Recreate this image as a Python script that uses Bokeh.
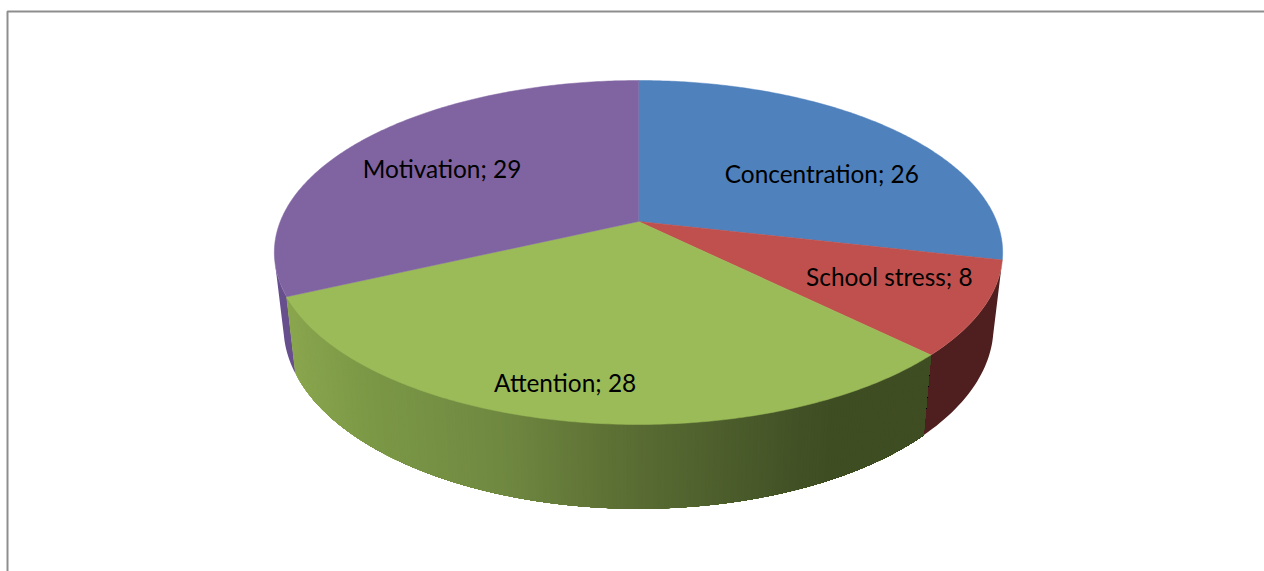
import numpy as np
from bokeh.plotting import figure
from bokeh.models import ColumnDataSource
from bokeh.core.properties import value
from bokeh.embed import file_html
from bokeh.resources import INLINE

# ---- data ----
categories = ["Concentration", "School stress", "Attention", "Motivation"]
values = [26, 8, 28, 29]

# ---- style ----
top_colors = ["#4F81BD", "#C0504D", "#9BBB59", "#8064A2"]
side_red = "#4E1F1E"
side_purple = "#674F8E"
grad_x = [290, 370, 500, 620, 700, 770, 830, 925]
grad_rgb = [(0x8a, 0xa6, 0x4e), (0x7b, 0x98, 0x46), (0x70, 0x89, 0x41),
            (0x5c, 0x6f, 0x34), (0x50, 0x62, 0x2e), (0x46, 0x56, 0x28),
            (0x3f, 0x4d, 0x23), (0x3f, 0x4d, 0x23)]
label_r = [0.62, 0.78, 0.80, 0.62]
label_dx = [21, -12, -16, -20]
label_dy = [12, -12, 8, -1]

# perspective projection of the pie's top and bottom discs
CX, K = 638.0, 0.1802
TOP = dict(R=358.2, a=166.4, y0=221.0)
BOT = dict(R=349.2, a=176.0, y0=293.5)


def proj(theta_deg, disc, r=1.0):
    t = np.radians(theta_deg)
    u, v = r * np.sin(t), r * np.cos(t)
    d = 1 + K * v
    return CX + disc["R"] * u / d, disc["y0"] - disc["a"] * v / d


def grad_color(x):
    rgb = [int(round(np.interp(x, grad_x, [c[i] for c in grad_rgb]))) for i in range(3)]
    return "#%02x%02x%02x" % tuple(rgb)


def wall(t0, t1, n=60):
    ts = np.linspace(t0, t1, n)
    tx, ty = proj(ts, TOP)
    bx, by = proj(ts[::-1], BOT)
    return [*tx, *bx], [*ty, *by]


total = sum(values)
edges = np.concatenate([[0], np.cumsum(values)]) * 360.0 / total

p = figure(width=1264, height=571, x_range=(0, 1264), y_range=(571, 0),
           toolbar_location=None, output_backend="svg", min_border=0,
           outline_line_color=None)
p.axis.visible = False
p.grid.visible = False

# frame
p.line(x=[1264, 7, 7], y=[11, 11, 571], line_color="#8e8e8e", line_width=2)

# side walls: each later polygon paints over the previous one, so no seams show
sx, sy, sc = [], [], []
wx, wy = wall(edges[3], 257.0, 12)
sx.append(wx); sy.append(wy); sc.append(side_purple)
wx, wy = wall(edges[1], edges[2], 30)
sx.append(wx); sy.append(wy); sc.append(side_red)
starts = np.arange(edges[2], edges[3] - 0.25, 0.5)
for a in starts[::-1]:
    wx, wy = wall(edges[2], a + 0.5, max(4, int((a - edges[2]) / 2) + 4))
    xm = (proj(a, TOP)[0] + proj(a, BOT)[0]) / 2
    sx.append(wx); sy.append(wy); sc.append(grad_color(xm))
p.patches(xs=sx, ys=sy, fill_color=sc, line_color=None)

# top faces
cx0, cy0 = proj(0, TOP, 0.0)
xs, ys = [], []
for a, b in zip(edges[:-1], edges[1:]):
    ts = np.linspace(a, b, 180)
    ax, ay = proj(ts, TOP)
    xs.append([cx0, *ax])
    ys.append([cy0, *ay])
p.patches(xs=xs, ys=ys, fill_color=top_colors, line_color=top_colors, line_width=0.5)

# labels
mids = (edges[:-1] + edges[1:]) / 2
lx, ly, lt = [], [], []
for i, c in enumerate(categories):
    x, y = proj(mids[i], TOP, label_r[i])
    lx.append(float(x + label_dx[i]))
    ly.append(float(y + label_dy[i]))
    lt.append(f"{c}; {values[i]}")
src = ColumnDataSource(dict(x=lx, y=ly, text=lt))
p.text(x="x", y="y", text="text", source=src, text_align="center", text_baseline="middle",
       text_font=value("Lato"), text_font_size="24.4px", text_color="#000000")

open("out.html", "w").write(file_html(p, INLINE))
